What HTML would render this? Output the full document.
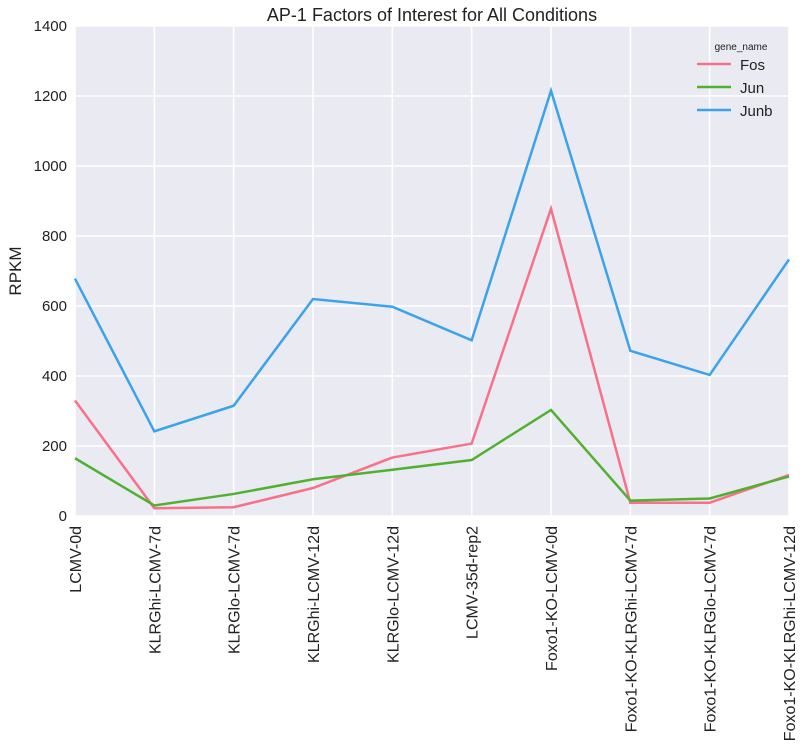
<!DOCTYPE html>
<html><head><meta charset="utf-8"><style>
body{margin:0;background:#fff;font-family:"Liberation Sans",sans-serif}
text{font-family:"Liberation Sans",sans-serif}
</style></head><body>
<svg id="chart" width="803" height="747" xmlns="http://www.w3.org/2000/svg"></svg>
<script>
const categories=["LCMV-0d","KLRGhi-LCMV-7d","KLRGlo-LCMV-7d","KLRGhi-LCMV-12d","KLRGlo-LCMV-12d","LCMV-35d-rep2","Foxo1-KO-LCMV-0d","Foxo1-KO-KLRGhi-LCMV-7d","Foxo1-KO-KLRGlo-LCMV-7d","Foxo1-KO-KLRGhi-LCMV-12d"];
const fos=[330,22,25,80,167,207,878,38,38,117];
const jun=[165,30,63,105,132,160,303,44,50,113];
const junb=[678,242,315,620,598,502,1215,472,403,733];
const yTicks=[0,200,400,600,800,1000,1200,1400];
const seriesNames=["Fos","Jun","Junb"];
const colors=["#f77189","#50b131","#3ba3ec"];
const NS="http://www.w3.org/2000/svg";
const svg=document.getElementById("chart");
const L=75,R=789,T=26,B=516;
const x=i=>L+i*(R-L)/(categories.length-1);
const y=v=>B-v*(B-T)/1400;
function el(tag,attrs,parent){const e=document.createElementNS(NS,tag);for(const k in attrs)e.setAttribute(k,attrs[k]);(parent||svg).appendChild(e);return e;}
const bg=el("rect",{x:L,y:T,width:R-L,height:B-T,fill:"#eaeaf2"});


yTicks.forEach(v=>{
 const g=el("line",{x1:L,x2:R,y1:y(v),y2:y(v),stroke:"#fff","stroke-width":1.5});
 
 
 const t=el("text",{x:L-8,y:y(v)+5,"text-anchor":"end","font-size":15,fill:"#222"});
 t.textContent=v;
 
 
});
categories.forEach((c,i)=>{
 const g=el("line",{x1:x(i),x2:x(i),y1:T,y2:B,stroke:"#fff","stroke-width":1.5});
 
 
 const t=el("text",{x:0,y:0,"text-anchor":"end","font-size":16,fill:"#222",transform:`translate(${x(i)+6},${B+10}) rotate(-90)`});
 t.textContent=c;
 
 
});
[fos,jun,junb].forEach((s,k)=>{
 const p=el("polyline",{points:s.map((v,i)=>x(i)+","+y(v)).join(" "),fill:"none",stroke:colors[k],"stroke-width":2.5});
 
 
});
const title=el("text",{x:(L+R)/2,y:21,"text-anchor":"middle","font-size":18,fill:"#222"});
title.textContent="AP-1 Factors of Interest for All Conditions";


const yl=el("text",{x:0,y:0,"text-anchor":"middle","font-size":17,fill:"#222",transform:"translate(21,271) rotate(-90)"});
yl.textContent="RPKM";


const lt=el("text",{x:741,y:50,"text-anchor":"middle","font-size":10,fill:"#222"});
lt.textContent="gene_name";


seriesNames.forEach((n,k)=>{
 const ly=64+k*23;
 const ln=el("line",{x1:697,x2:731,y1:ly,y2:ly,stroke:colors[k],"stroke-width":2.5});
 
 
 const t=el("text",{x:740,y:ly+6,"font-size":15,fill:"#222"});
 t.textContent=n;
 
 
});
</script>
</body></html>
